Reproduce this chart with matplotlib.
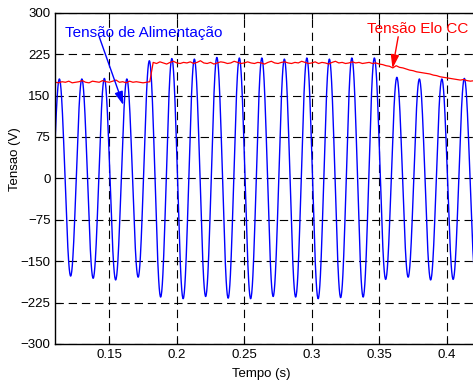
import numpy as np
import matplotlib
matplotlib.use("Agg")
import matplotlib.pyplot as plt

# =========================
# Dados
# =========================
FREQ = 60.0

# picos positivos da tensão de alimentação (V), um por ciclo
peak_t0 = 0.1130
peak_values = [180, 180, 181, 180, 213, 217, 216, 219, 218, 218,
               216, 218, 216, 218, 218, 183, 180, 180, 181, 180]

# vales negativos (V), um por ciclo
trough_t0 = 0.1047
trough_values = [-178, -177, -181, -184, -179, -215, -218, -214, -217, -218,
                 -214, -215, -218, -216, -215, -183, -179, -184, -183, -181]

# tensão do elo CC (V), amostrada a cada 2.5 ms a partir de 0.110 s
dc_t0 = 0.110
dc_step = 0.0025
dc_values = [
    174, 173, 175, 174, 176, 173, 174, 175, 177, 174,
    173, 176, 175, 174, 177, 175, 174, 176, 178, 174,
    175, 173, 176, 174, 175, 174, 173, 174, 175,
    210, 208, 211, 209, 207, 210, 212, 209, 208, 210,
    209, 211, 208, 210, 213, 209, 208, 210, 207, 209,
    211, 210, 208, 209, 212, 210, 208, 209, 211, 209,
    208, 210, 209, 207, 210, 212, 209, 208, 210, 211,
    209, 208, 210, 209, 212, 210, 208, 209, 211, 208,
    210, 209, 207, 210, 212, 209, 210, 208, 209, 211,
    209, 210, 208, 209, 210, 208, 209,
    207, 206, 204, 203, 200, 204, 201, 200, 198, 196,
    195, 193, 192, 191, 190, 189, 187, 186, 184, 183,
    182, 181, 180, 179, 178, 179, 177, 176, 177, 175,
    176, 175, 175,
]

x_ticks = [0.15, 0.2, 0.25, 0.3, 0.35, 0.4]
x_tick_labels = ["0.15", "0.2", "0.25", "0.3", "0.35", "0.4"]
y_ticks = [-300, -225, -150, -75, 0, 75, 150, 225, 300]


def build_wave(peak_t0, peaks, trough_t0, troughs, freq, n_per_half=40):
    # junta picos e vales em ordem no tempo e liga cada par com meio cosseno
    period = 1.0 / freq
    ext = [(trough_t0 + i * period, v) for i, v in enumerate(troughs)]
    ext += [(peak_t0 + i * period, v) for i, v in enumerate(peaks)]
    ext.sort()
    ts, vs = [], []
    for (t1, v1), (t2, v2) in zip(ext[:-1], ext[1:]):
        s = np.linspace(0, 1, n_per_half, endpoint=False)
        ts.append(t1 + s * (t2 - t1))
        vs.append((v1 + v2) / 2 + (v1 - v2) / 2 * np.cos(np.pi * s))
    return np.concatenate(ts), np.concatenate(vs)


plt.rcParams["font.family"] = ["Liberation Sans", "DejaVu Sans"]
plt.rcParams["lines.scale_dashes"] = False

fig = plt.figure(figsize=(4.73, 3.87), dpi=100)
ax = fig.add_axes([55.3 / 473, 43 / 387, 432 / 473, 331.3 / 387])

wave_t, wave_v = build_wave(peak_t0, peak_values, trough_t0, trough_values, FREQ)
dc_t = dc_t0 + dc_step * np.arange(len(dc_values))

ax.plot(wave_t, wave_v, color="#0000ff", lw=1.0)
ax.plot(dc_t, dc_values, color="#ff0000", lw=0.9)

ax.set_xlim(0.11, 0.43)
ax.set_ylim(-300, 300)
ax.set_xticks(x_ticks)
ax.set_xticklabels(x_tick_labels)
ax.set_yticks(y_ticks)
ax.tick_params(direction="in", top=True, right=True, labelsize=9.5,
               length=4, width=0.8, colors="black")
ax.grid(True, color="black", linestyle=(0, (6, 3.5)), linewidth=0.8)
ax.set_axisbelow(True)
for sp in ax.spines.values():
    sp.set_linewidth(1.0)
    sp.set_color("black")

ax.set_xlabel("Tempo (s)", fontsize=9.5)
ax.set_ylabel("Tensao (V)", fontsize=9.5)
ax.xaxis.set_label_coords((261.7 - 55.3) / 432, -0.072)
ax.yaxis.set_label_coords((21 - 55.3) / 432, (387 - 159.4 - 43) / 331.3)

# legendas com setas
ax.text(0.1172, 262.6, "Tensão de Alimentação", color="#0000ff",
        fontsize=11, ha="left", va="center")
ax.annotate("", xy=(0.1604, 132.7), xytext=(0.1426, 255.9),
            arrowprops=dict(arrowstyle="-|>,head_length=0.8,head_width=0.25",
                            color="#0000ff", lw=1.0, shrinkA=0, shrinkB=0))
ax.text(0.3406, 269.8, "Tensão Elo CC", color="#ff0000",
        fontsize=11, ha="left", va="center")
ax.annotate("", xy=(0.3598, 199.2), xytext=(0.3640, 256.4),
            arrowprops=dict(arrowstyle="-|>,head_length=0.8,head_width=0.25",
                            color="#ff0000", lw=1.0, shrinkA=0, shrinkB=0))

fig.savefig("out.png", dpi=100)
